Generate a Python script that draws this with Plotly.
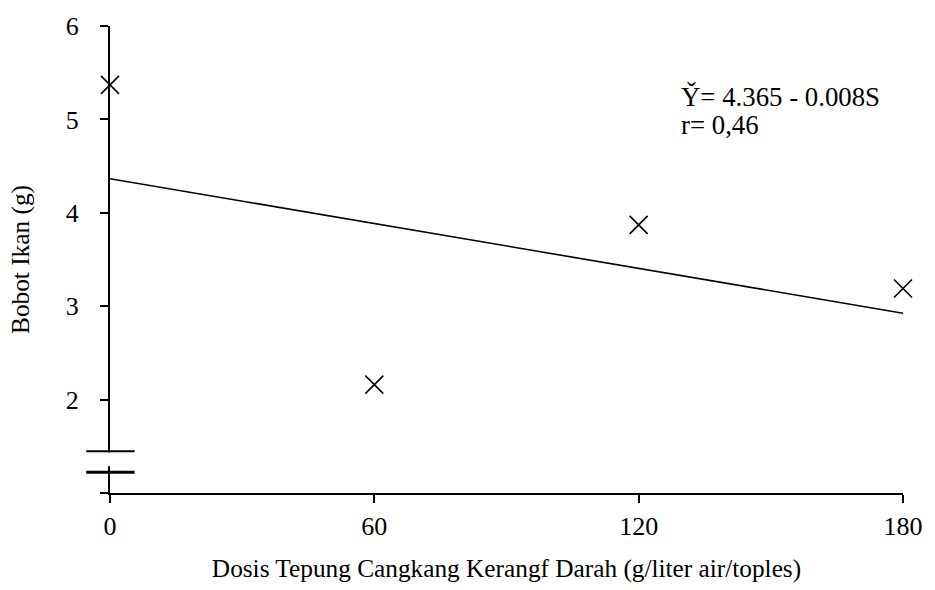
import plotly.graph_objects as go

dosis = [0, 60, 120, 180]
bobot = [5.37, 2.16, 3.87, 3.19]
intercept = 4.365
slope = -0.008
x_ticks = [0, 60, 120, 180]
y_ticks = [1, 2, 3, 4, 5, 6]
y_tick_labels = ["", "2", "3", "4", "5", "6"]
equation_text = "Y\u030c= 4.365 - 0.008S"
r_text = "r= 0,46"

FONT = "Liberation Serif, Times New Roman, serif"

fig = go.Figure()
fig.add_trace(go.Scatter(
    x=dosis, y=bobot, mode="markers", cliponaxis=False,
    marker=dict(symbol="x-thin-open", size=18, line=dict(color="black", width=1.6), color="black"),
    showlegend=False,
))
fit_x = [min(dosis), max(dosis)]
fit_y = [intercept + slope * v for v in fit_x]
fig.add_trace(go.Scatter(
    x=fit_x, y=fit_y, mode="lines", cliponaxis=False,
    line=dict(color="black", width=1.6), showlegend=False,
))

fig.update_layout(
    width=935, height=590,
    margin=dict(l=110, r=23, t=24, b=96),
    plot_bgcolor="white", paper_bgcolor="white",
    font=dict(family=FONT, size=20, color="black"),
    xaxis=dict(
        range=[0, 180], tickvals=x_ticks, ticktext=[str(v) for v in x_ticks],
        showline=True, linecolor="black", linewidth=2, ticks="outside",
        ticklen=8, tickwidth=1.6, tickcolor="black", showgrid=False, zeroline=False,
        title=dict(text="Dosis Tepung Cangkang Kerangf Darah (g/liter air/toples)",
                   standoff=19, font=dict(size=25.3)),
        tickfont=dict(size=26), ticklabelstandoff=1,
    ),
    yaxis=dict(
        range=[1, 6], tickvals=y_ticks, ticktext=y_tick_labels,
        showline=True, linecolor="black", linewidth=2, ticks="outside",
        ticklen=8, tickwidth=1.6, tickcolor="black", showgrid=False, zeroline=False,
        title=dict(text="Bobot Ikan (g)", standoff=29, font=dict(size=25.3)),
        tickfont=dict(size=26), ticklabelstandoff=16,
    ),
    annotations=[
        dict(x=0.718, y=0.849, xref="paper", yref="paper", xanchor="left", yanchor="middle",
             text=equation_text, showarrow=False, font=dict(family=FONT, size=26.8, color="black")),
        dict(x=0.718, y=0.787, xref="paper", yref="paper", xanchor="left", yanchor="middle",
             text=r_text, showarrow=False, font=dict(family=FONT, size=26.8, color="black")),
    ],
    shapes=[
        dict(type="rect", xref="paper", yref="paper", x0=-0.01, x1=0.01, y0=0.0574, y1=0.087,
             fillcolor="white", line=dict(width=0), layer="above"),
        dict(type="line", xref="paper", yref="paper", x0=-0.03, x1=0.031, y0=0.0894, y1=0.0894,
             line=dict(color="black", width=1.8), layer="above"),
        dict(type="line", xref="paper", yref="paper", x0=-0.03, x1=0.031, y0=0.0447, y1=0.0447,
             line=dict(color="black", width=3), layer="above"),
    ],
)

fig.write_html("out.html", post_script="document.body.style.margin='0';",
               config={"displayModeBar": False})
